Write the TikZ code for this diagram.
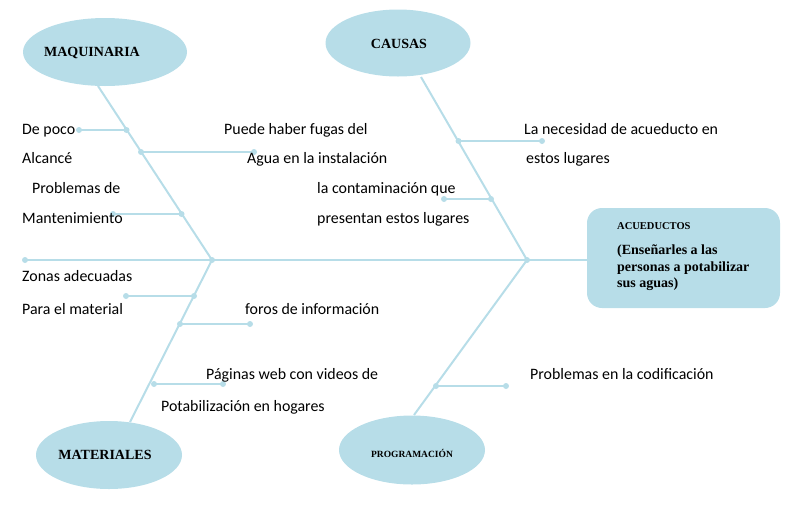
\documentclass[tikz,border=0pt]{standalone}
\usepackage{fontspec}
\setmainfont{Carlito}
\newfontfamily\labfont{Liberation Serif}
\usetikzlibrary{shapes.geometric,calc}
\definecolor{bone}{RGB}{183,221,232}
\begin{document}
\begin{tikzpicture}[x=1pt,y=-1pt,
  bonel/.style={draw=bone,line width=2pt},
  dotc/.style={circle,fill=bone,inner sep=0pt,minimum size=6pt},
  oval/.style={ellipse,fill=bone,inner sep=0pt},
  txt/.style={anchor=base west,inner sep=0pt,font=\fontsize{15.9}{18}\selectfont},
  lab/.style={inner sep=0pt,font=\labfont\bfseries\fontsize{14}{16}\selectfont}]
\useasboundingbox (0,0) rectangle (786,504);

% heads
\node[oval,minimum width=164pt,minimum height=68pt] (m) at (105,52) {};
\node[lab] (mt) at (92,53) {MAQUINARIA};
\node[oval,minimum width=145pt,minimum height=67pt] (c) at (398,43) {};
\node[lab] (ct) at (399,44) {CAUSAS};
\node[oval,minimum width=146pt,minimum height=68pt] (t) at (109,455) {};
\node[lab] (tt) at (105,455) {MATERIALES};
\node[oval,minimum width=146pt,minimum height=69pt] (p) at (412,450) {};
\node[lab,font=\labfont\bfseries\fontsize{9.5}{11}\selectfont] (pt) at (412,453) {PROGRAMACIÓN};
\node[fill=bone,rounded corners=15pt,minimum width=193pt,minimum height=100pt,inner sep=0pt] (a) at (683.5,258) {};
\node[anchor=north west,inner sep=0pt,align=left,font=\labfont\bfseries\fontsize{14}{16.5}\selectfont] (at) at (617,222)
  {{\fontsize{10.5}{12}\selectfont ACUEDUCTOS}\\[9pt]
   (Enseñarles a las\\personas a potabilizar\\sus aguas)};

% spine
\coordinate (s0) at (25,260);
\coordinate (J1) at (212,260);
\coordinate (J2) at (527,260);
\draw[bonel] (s0) -- (J2 -| a.west);

% bone ends
\coordinate (mB) at (98,86);
\coordinate (cB) at (421,77);
\coordinate (tB) at (130,422);
\coordinate (pB) at (414,415);
\draw[bonel] (mB) -- (J1);
\draw[bonel] (cB) -- (J2);
\draw[bonel] (J1) -- (tB);
\draw[bonel] (J2) -- (pB);

% sub-bones
\coordinate (m1) at (126.5,130); \coordinate (m1e) at (79,130);
\coordinate (m2) at (141,152);   \coordinate (m2e) at (254,152);
\coordinate (m3) at (181.5,214); \coordinate (m3e) at (113,214);
\coordinate (c1) at (458.5,141); \coordinate (c1e) at (542,141);
\coordinate (c2) at (491,199);   \coordinate (c2e) at (444,199);
\coordinate (t1) at (194,296);   \coordinate (t1e) at (126,296);
\coordinate (t2) at (180,324);   \coordinate (t2e) at (250,324);
\coordinate (t3) at (154,384);   \coordinate (t3e) at (223,384);
\coordinate (p1) at (436,386);   \coordinate (p1e) at (506,386);
\foreach \u/\v in {m1/m1e,m2/m2e,m3/m3e,c1/c1e,c2/c2e,t1/t1e,t2/t2e,t3/t3e,p1/p1e}{
  \draw[bonel] (\u) -- (\v);
  \node[dotc] at (\u) {};
  \node[dotc] at (\v) {};
}
\node[dotc] at (s0) {};
\node[dotc] at (J1) {};
\node[dotc] at (J2) {};

% texts
\node[txt] (x1) at (22,134) {De poco};
\node[txt] (x2) at (22,163) {Alcancé};
\node[txt] (x3) at (32,193) {Problemas de};
\node[txt] (x4) at (22,223) {Mantenimiento};
\node[txt] (x5) at (224,134) {Puede haber fugas del};
\node[txt] (x6) at (247,163) {Agua en la instalación};
\node[txt] (x7) at (317,193) {la contaminación que};
\node[txt] (x8) at (317,223) {presentan estos lugares};
\node[txt] (x9) at (524,134) {La necesidad de acueducto en};
\node[txt] (x10) at (526,163) {estos lugares};
\node[txt] (x11) at (22,281) {Zonas adecuadas};
\node[txt] (x12) at (22,314) {Para el material};
\node[txt] (x13) at (245,314) {foros de información};
\node[txt] (x14) at (206,379) {Páginas web con videos de};
\node[txt] (x15) at (161,411) {Potabilización en hogares};
\node[txt] (x16) at (530,379) {Problemas en la codificación};
\end{tikzpicture}
\end{document}
